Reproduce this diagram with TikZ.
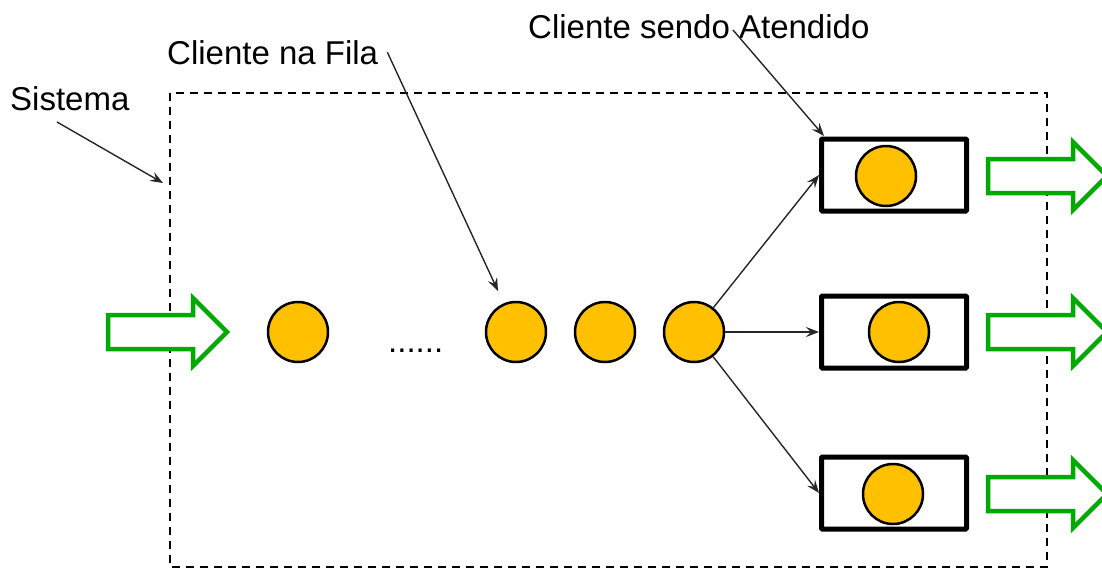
\documentclass[tikz,border=0pt]{standalone}
\usepackage{fontspec}
\setmainfont{Liberation Sans}
\usetikzlibrary{arrows.meta}
\definecolor{clientfill}{HTML}{FFC000}
\definecolor{flowgreen}{HTML}{00AA00}
\begin{document}
\begin{tikzpicture}[x=1pt,y=-1pt,
  lbl/.style={font=\fontsize{33}{40}\selectfont, inner sep=0pt, anchor=base west},
  client/.style={circle, draw=black, line width=2.5pt, fill=clientfill, minimum size=60pt, inner sep=0pt},
  server/.style={draw=black, line width=5pt, rounded corners=1pt, fill=white, minimum width=145pt, minimum height=72pt, inner sep=0pt},
  pointer/.style={draw=black!85, line width=1.4pt, -{Stealth[length=13pt,width=10pt,inset=5pt]}},
  flowarrow/.style={draw=flowgreen, line width=4.5pt, fill=white, line join=miter}
]
\useasboundingbox (0,0) rectangle (1102,568);

% system boundary
\draw[line width=2.5pt, dash pattern=on 8pt off 6pt] (170,93) rectangle (1047,567);

% labels
\node[lbl] (lsys) at (10,110) {Sistema};
\node[lbl] (lfila) at (167,64) {Cliente na Fila};
\node[lbl] (latend) at (528,38) {Cliente sendo Atendido};

% waiting clients
\node[client] (q1) at (298,332) {};
\node[lbl] (dots) at (388,352) {......};
\node[client] (q2) at (516,332) {};
\node[client] (q3) at (605,332) {};
\node[client] (q4) at (694,332) {};

% servers with the clients being served
\node[server] (s1) at (894,175) {};
\node[server] (s2) at (894,332) {};
\node[server] (s3) at (894,493) {};
\node[client] (c1) at (886,176) {};
\node[client] (c2) at (899,332) {};
\node[client] (c3) at (893,494) {};

% block arrows: arrival and departures
\foreach \xx/\yy in {108/332, 988/176, 988/332, 988/494}{
  \draw[flowarrow] (\xx,\yy-17) -- ++(85,0) -- ++(0,-17) -- ++(34,34) -- ++(-34,34) -- ++(0,-17) -- ++(-85,0) -- cycle;
}

% pointers from labels
\coordinate (psys) at (163,183);
\coordinate (pfila) at (498,291);
\coordinate (patend) at (824,136);
\draw[pointer] (57,122) -- (psys);
\draw[pointer] (lfila.east) ++(9,0) -- (pfila);
\draw[pointer] (733,30) -- (patend);

% routing of the front client to the servers
\draw[pointer] (q4) -- (s1.west);
\draw[pointer] (q4) -- (s2.west);
\draw[pointer] (q4) -- (s3.west);
\end{tikzpicture}
\end{document}
